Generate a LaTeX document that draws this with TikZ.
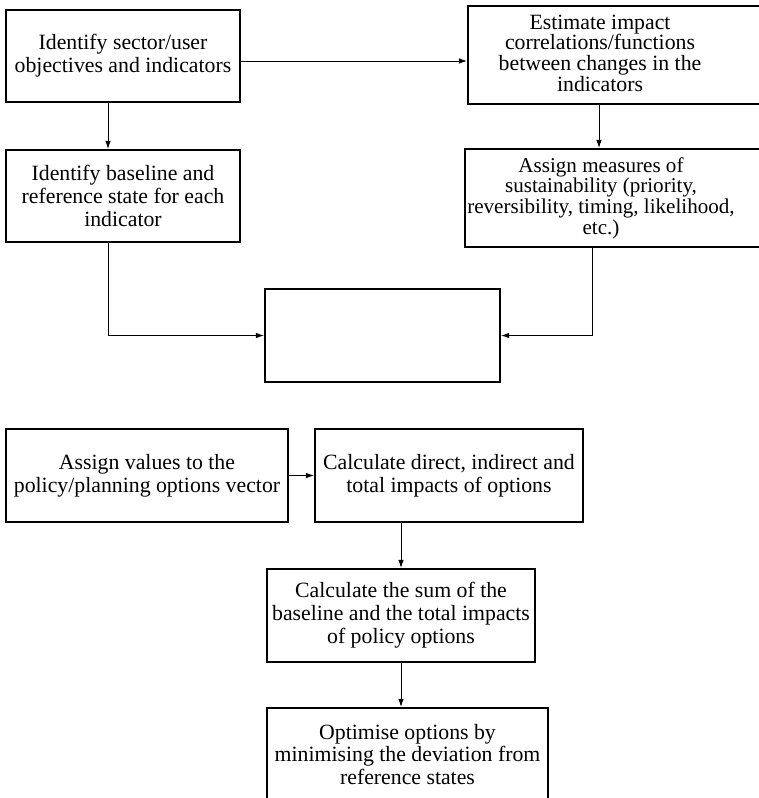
\documentclass[tikz,border=0pt]{standalone}
\usepackage{fontspec}
\setmainfont{Liberation Serif}
\usetikzlibrary{arrows.meta}
\begin{document}
\begin{tikzpicture}[x=0.02cm,y=-0.02cm,
  >={Latex[length=1.6mm,width=1.1mm]},
  stagebox/.style={draw,line width=1.2pt,align=center,inner sep=0pt,
    font=\fontsize{12.4}{13}\selectfont},
  link/.style={->,line width=0.5pt}]
%\draw[step=50,gray,very thin] (0,0) grid (759,798); %background grid
\useasboundingbox (0,0) rectangle (759,798);
\clip (0,0) rectangle (759,798);
\node[stagebox,minimum width=4.68cm,minimum height=1.84cm] (objectives) at (123,56)
  {Identify sector/user\\objectives and indicators};
\node[stagebox,minimum width=6.14cm,minimum height=1.96cm,
  label={[xshift=-0.43cm,yshift=0.04cm,align=center,font=\fontsize{12.4}{11.8}\selectfont]center:Estimate impact\\correlations/functions\\between changes in the\\indicators}] (correlations) at (621.5,55) {};
\node[stagebox,minimum width=4.68cm,minimum height=1.84cm] (baseline) at (123,196)
  {Identify baseline and\\reference state for each\\indicator};
\node[stagebox,minimum width=6.2cm,minimum height=1.96cm,
  label={[xshift=-0.38cm,align=center,font=\fontsize{12}{11.8}\selectfont]center:Assign measures of\\sustainability (priority,\\reversibility, timing, likelihood,\\etc.)}] (measures) at (620,198) {};
\node[stagebox,minimum width=4.7cm,minimum height=1.86cm] (combine) at (382.5,335.5) {};
\node[stagebox,minimum width=5.64cm,minimum height=1.86cm] (values) at (147,475.5)
  {Assign values to the\\policy/planning options vector};
\node[stagebox,minimum width=5.36cm,minimum height=1.86cm] (impacts) at (449,475.5)
  {Calculate direct, indirect and\\total impacts of options};
\node[stagebox,minimum width=5.36cm,minimum height=1.86cm] (sum) at (401,615.5)
  {Calculate the sum of the\\baseline and the total impacts\\of policy options};
\node[stagebox,minimum width=5.62cm,minimum height=1.86cm] (optimise) at (407.5,754.5)
  {Optimise options by\\minimising the deviation from\\reference states};
\draw[link] ([yshift=-0.1cm]objectives.east) -- ([yshift=-0.1cm]objectives.east -| correlations.west);
\draw[link] ([xshift=-0.3cm]objectives.south) -- ([xshift=-0.3cm]baseline.north);
\draw[link] ([xshift=-0.45cm]correlations.south) -- ([xshift=-0.45cm]correlations.south |- measures.north);
\draw[link] ([xshift=-0.3cm]baseline.south) |- (combine.west);
\draw[link] ([xshift=-0.56cm]measures.south) |- (combine.east);
\draw[link] (values.east) -- (impacts.west);
\draw[link] (impacts.south -| sum.north) -- (sum.north);
\draw[link] (sum.south) -- (sum.south |- optimise.north);
\end{tikzpicture}
\end{document}
